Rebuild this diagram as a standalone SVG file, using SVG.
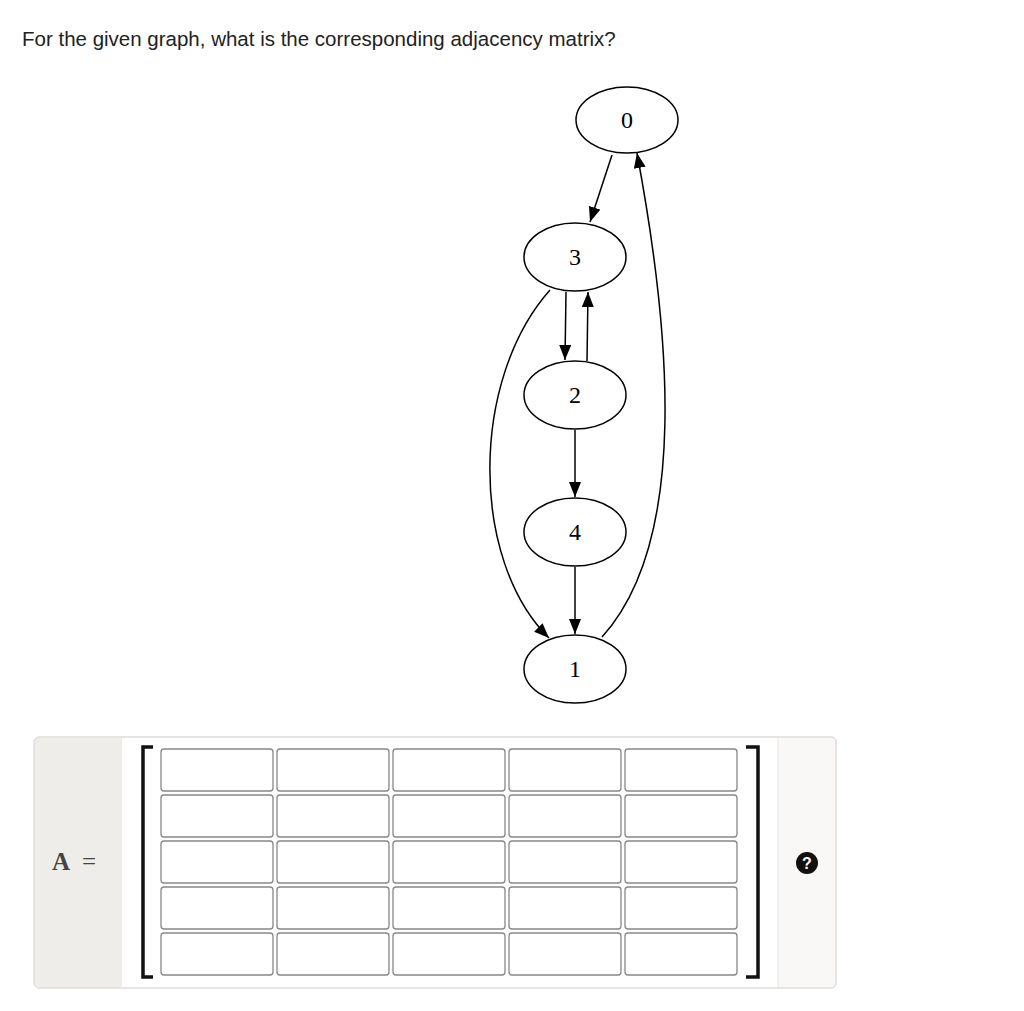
<svg xmlns="http://www.w3.org/2000/svg" width="1024" height="1011" viewBox="0 0 1024 1011">
<style>
.n ellipse{fill:#fff;stroke:#000;stroke-width:1.5}
.n text{font-family:"Liberation Serif",serif;font-size:24px;text-anchor:middle}
.e path{fill:none;stroke:#000;stroke-width:1.5;marker-end:url(#ah)}
.c{fill:#fff;stroke:#888;stroke-width:1.3}
.b{fill:none;stroke:#111;stroke-width:3.5}
</style>
<defs><marker id="ah" markerWidth="15" markerHeight="12" refX="15" refY="6" orient="auto" markerUnits="userSpaceOnUse" viewBox="0 0 15 12"><path d="M0,0 L15,6 L0,12 Z" fill="#000"/></marker></defs>
<rect width="1024" height="1011" fill="#fff"/>
<text x="22" y="46" font-family="Liberation Sans,Arial,sans-serif" font-size="20.5" fill="#222">For the given graph, what is the corresponding adjacency matrix?</text>
<g class="e" id="connectors">
<path d="M612,155 L590,222"/>
<path d="M566,292 L565,360"/>
<path d="M587,361 L588,292"/>
<path d="M575,430 L575,497"/>
<path d="M575,567 L575,634"/>
<path d="M550,290 C470,380 470,560 549,638"/>
<path d="M602,637 C690,540 670,330 637,153"/>
</g>
<g class="n" id="n0"><ellipse cx="627" cy="120" rx="51" ry="33"/><text x="627" y="128">0</text></g>
<g class="n" id="n3"><ellipse cx="575" cy="257" rx="51" ry="34"/><text x="575" y="265">3</text></g>
<g class="n" id="n2"><ellipse cx="575" cy="395" rx="51" ry="34"/><text x="575" y="403">2</text></g>
<g class="n" id="n4"><ellipse cx="575" cy="532" rx="51" ry="34"/><text x="575" y="540">4</text></g>
<g class="n" id="n1"><ellipse cx="575" cy="669" rx="51" ry="34"/><text x="575" y="677">1</text></g>
<g id="matrix">
<rect x="34" y="737" width="802" height="251" rx="5" fill="#fff" stroke="#e2e0dd"/>
<path d="M39,737 H122 V988 H39 A5,5 0 0 1 34,983 V742 A5,5 0 0 1 39,737 Z" fill="#efedea"/>
<path d="M778,737 H831 A5,5 0 0 1 836,742 V983 A5,5 0 0 1 831,988 H778 Z" fill="#f9f8f7" stroke="#e8e6e3"/>
<rect x="34" y="737" width="802" height="251" rx="5" fill="none" stroke="#dddad6"/>
<text x="52" y="870" font-family="Liberation Serif,serif" font-size="25" font-weight="bold" fill="#444">A</text>
<text x="82" y="870" font-family="Liberation Serif,serif" font-size="25" fill="#444">=</text>
<path class="b" d="M153,747 H143 V977 H153"/>
<path class="b" d="M746,747 H758 V977 H746"/>
<g>
<rect class="c" x="161" y="749" width="112" height="42" rx="3"/><rect class="c" x="277" y="749" width="112" height="42" rx="3"/><rect class="c" x="393" y="749" width="112" height="42" rx="3"/><rect class="c" x="509" y="749" width="112" height="42" rx="3"/><rect class="c" x="625" y="749" width="112" height="42" rx="3"/>
<rect class="c" x="161" y="795" width="112" height="42" rx="3"/><rect class="c" x="277" y="795" width="112" height="42" rx="3"/><rect class="c" x="393" y="795" width="112" height="42" rx="3"/><rect class="c" x="509" y="795" width="112" height="42" rx="3"/><rect class="c" x="625" y="795" width="112" height="42" rx="3"/>
<rect class="c" x="161" y="841" width="112" height="42" rx="3"/><rect class="c" x="277" y="841" width="112" height="42" rx="3"/><rect class="c" x="393" y="841" width="112" height="42" rx="3"/><rect class="c" x="509" y="841" width="112" height="42" rx="3"/><rect class="c" x="625" y="841" width="112" height="42" rx="3"/>
<rect class="c" x="161" y="887" width="112" height="42" rx="3"/><rect class="c" x="277" y="887" width="112" height="42" rx="3"/><rect class="c" x="393" y="887" width="112" height="42" rx="3"/><rect class="c" x="509" y="887" width="112" height="42" rx="3"/><rect class="c" x="625" y="887" width="112" height="42" rx="3"/>
<rect class="c" x="161" y="933" width="112" height="42" rx="3"/><rect class="c" x="277" y="933" width="112" height="42" rx="3"/><rect class="c" x="393" y="933" width="112" height="42" rx="3"/><rect class="c" x="509" y="933" width="112" height="42" rx="3"/><rect class="c" x="625" y="933" width="112" height="42" rx="3"/>
</g>
<circle cx="807" cy="863" r="11" fill="#111"/>
<text x="807" y="869" font-family="Liberation Sans,Arial,sans-serif" font-size="16" font-weight="bold" fill="#fff" text-anchor="middle">?</text>
</g>
</svg>
